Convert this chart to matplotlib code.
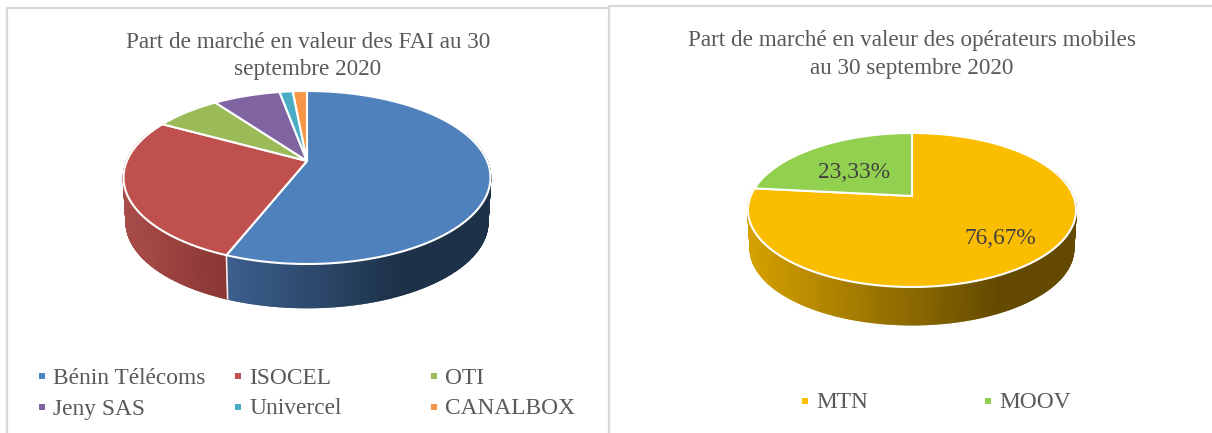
import numpy as np
import matplotlib
matplotlib.use('Agg')
import matplotlib.pyplot as plt
import matplotlib.colors as mcolors

plt.rcParams['font.family'] = ['Liberation Serif', 'DejaVu Serif']

# valeurs
fai_names = ['Bénin Télécoms', 'ISOCEL', 'OTI', 'Jeny SAS', 'Univercel', 'CANALBOX']
fai_shares = [56.0, 27.0, 7.0, 7.1, 1.4, 1.5]
fai_colors = ['#4f81bd', '#c0504d', '#9bbb59', '#8064a2', '#4bacc6', '#f79646']

mobile_names = ['MTN', 'MOOV']
mobile_shares = [76.67, 23.33]
mobile_colors = ['#fbbd00', '#92d050']

GREY = '#595959'
TITLE_SIZE = 16.7
LEGEND_SIZE = 16.8


def project(t, apex, B, A, k):
    # cercle -> ellipse en perspective (t en radians, sens horaire depuis le haut)
    u, v = np.sin(t), np.cos(t)
    return apex[0] + B * u / (1 + k * v), apex[1] - A * v / (1 + k * v)


def draw_pie(ax, shares, colors, walls, apex, B, A, k, depth):
    edges = np.radians(np.cumsum([0] + list(shares)) * 3.6)

    # paroi du camembert, bandes verticales en degrade
    for i in range(len(shares)):
        if walls[i] is None:
            continue
        x_stops, c_stops = walls[i]
        rgb = np.array([mcolors.to_rgb(c) for c in c_stops])
        a = max(edges[i], np.radians(70))
        b = min(edges[i + 1], np.radians(290))
        if b <= a:
            continue
        ts = np.linspace(a, b, 240)
        x, y = project(ts, apex, B, A, k)
        x2 = apex[0] + 0.985 * (x - apex[0])
        y2 = apex[1] + 0.985 * (y - apex[1]) + depth
        for j in range(len(ts) - 1):
            col = [np.interp(x[j], x_stops, rgb[:, n]) for n in range(3)]
            ax.fill([x[j], x[j + 1], x2[j + 1], x2[j]],
                    [y[j], y[j + 1], y2[j + 1], y2[j]],
                    color=col, lw=1.2, zorder=2)
        # separation blanche entre les parois
        if np.degrees(a) > 100 and np.degrees(a) < 260:
            ax.plot([x[0], x2[0]], [y[0], y2[0]], color='#f0f0f0', lw=1.2, zorder=3)

    # face du dessus
    for i in range(len(shares)):
        ts = np.linspace(edges[i], edges[i + 1], 200)
        x, y = project(ts, apex, B, A, k)
        ax.fill(np.r_[apex[0], x], np.r_[apex[1], y], facecolor=colors[i],
                edgecolor='white', lw=1.5, joinstyle='round', zorder=4)


def legend_item(ax, x, y, name, color):
    ax.plot(x, y, 's', color=color, ms=4.6, mew=0, zorder=5)
    ax.text(x + 11, y + 2, name, color=GREY, fontsize=LEGEND_SIZE, va='center', ha='left')


fig = plt.figure(figsize=(12.12, 4.33), dpi=100)
ax = fig.add_axes([0, 0, 1, 1])
ax.set_xlim(0, 1212)
ax.set_ylim(433, 0)
ax.axis('off')

# cadres
ax.plot([7, 7, 609], [433, 8, 8], color='#d9d9d9', lw=1.6)
ax.plot([609, 609, 1212], [433, 6, 6], color='#d9d9d9', lw=1.6)

# FAI
ax.text(308, 42.5, 'Part de marché en valeur des FAI au 30', color=GREY, fontsize=TITLE_SIZE, ha='center', va='center')
ax.text(308, 69.5, 'septembre 2020', color=GREY, fontsize=TITLE_SIZE, ha='center', va='center')
fai_walls = [([227, 400], ['#3c5f8e', '#1d3249']),
             ([125, 227], ['#a84c49', '#8a3633'])] + [None] * 4
draw_pie(ax, fai_shares, fai_colors, fai_walls, (307, 161), 180.1, 83.35, 0.1908, 45)

legend_x = [42, 238, 434]
legend_y = [376, 407]
for i in range(len(fai_names)):
    legend_item(ax, legend_x[i % 3], legend_y[i // 3], fai_names[i], fai_colors[i])

# mobile
ax.text(912, 40.5, 'Part de marché en valeur des opérateurs mobiles', color=GREY, fontsize=TITLE_SIZE, ha='center', va='center')
ax.text(912, 68.5, 'au 30 septembre 2020', color=GREY, fontsize=TITLE_SIZE, ha='center', va='center')
mobile_walls = [([750, 1000], ['#d4a000', '#644a00']), None]
draw_pie(ax, mobile_shares, mobile_colors, mobile_walls, (912, 196), 161.3, 74.45, 0.1818, 39)

ax.text(1000, 239, f'{mobile_shares[0]:.2f}%'.replace('.', ','), color='#404040', fontsize=LEGEND_SIZE, ha='center', va='center', zorder=6)
ax.text(854, 172, f'{mobile_shares[1]:.2f}%'.replace('.', ','), color='#404040', fontsize=LEGEND_SIZE, ha='center', va='center', zorder=6)

legend_item(ax, 805, 401, mobile_names[0], mobile_colors[0])
legend_item(ax, 988, 401, mobile_names[1], mobile_colors[1])

fig.savefig('out.png', dpi=100)
